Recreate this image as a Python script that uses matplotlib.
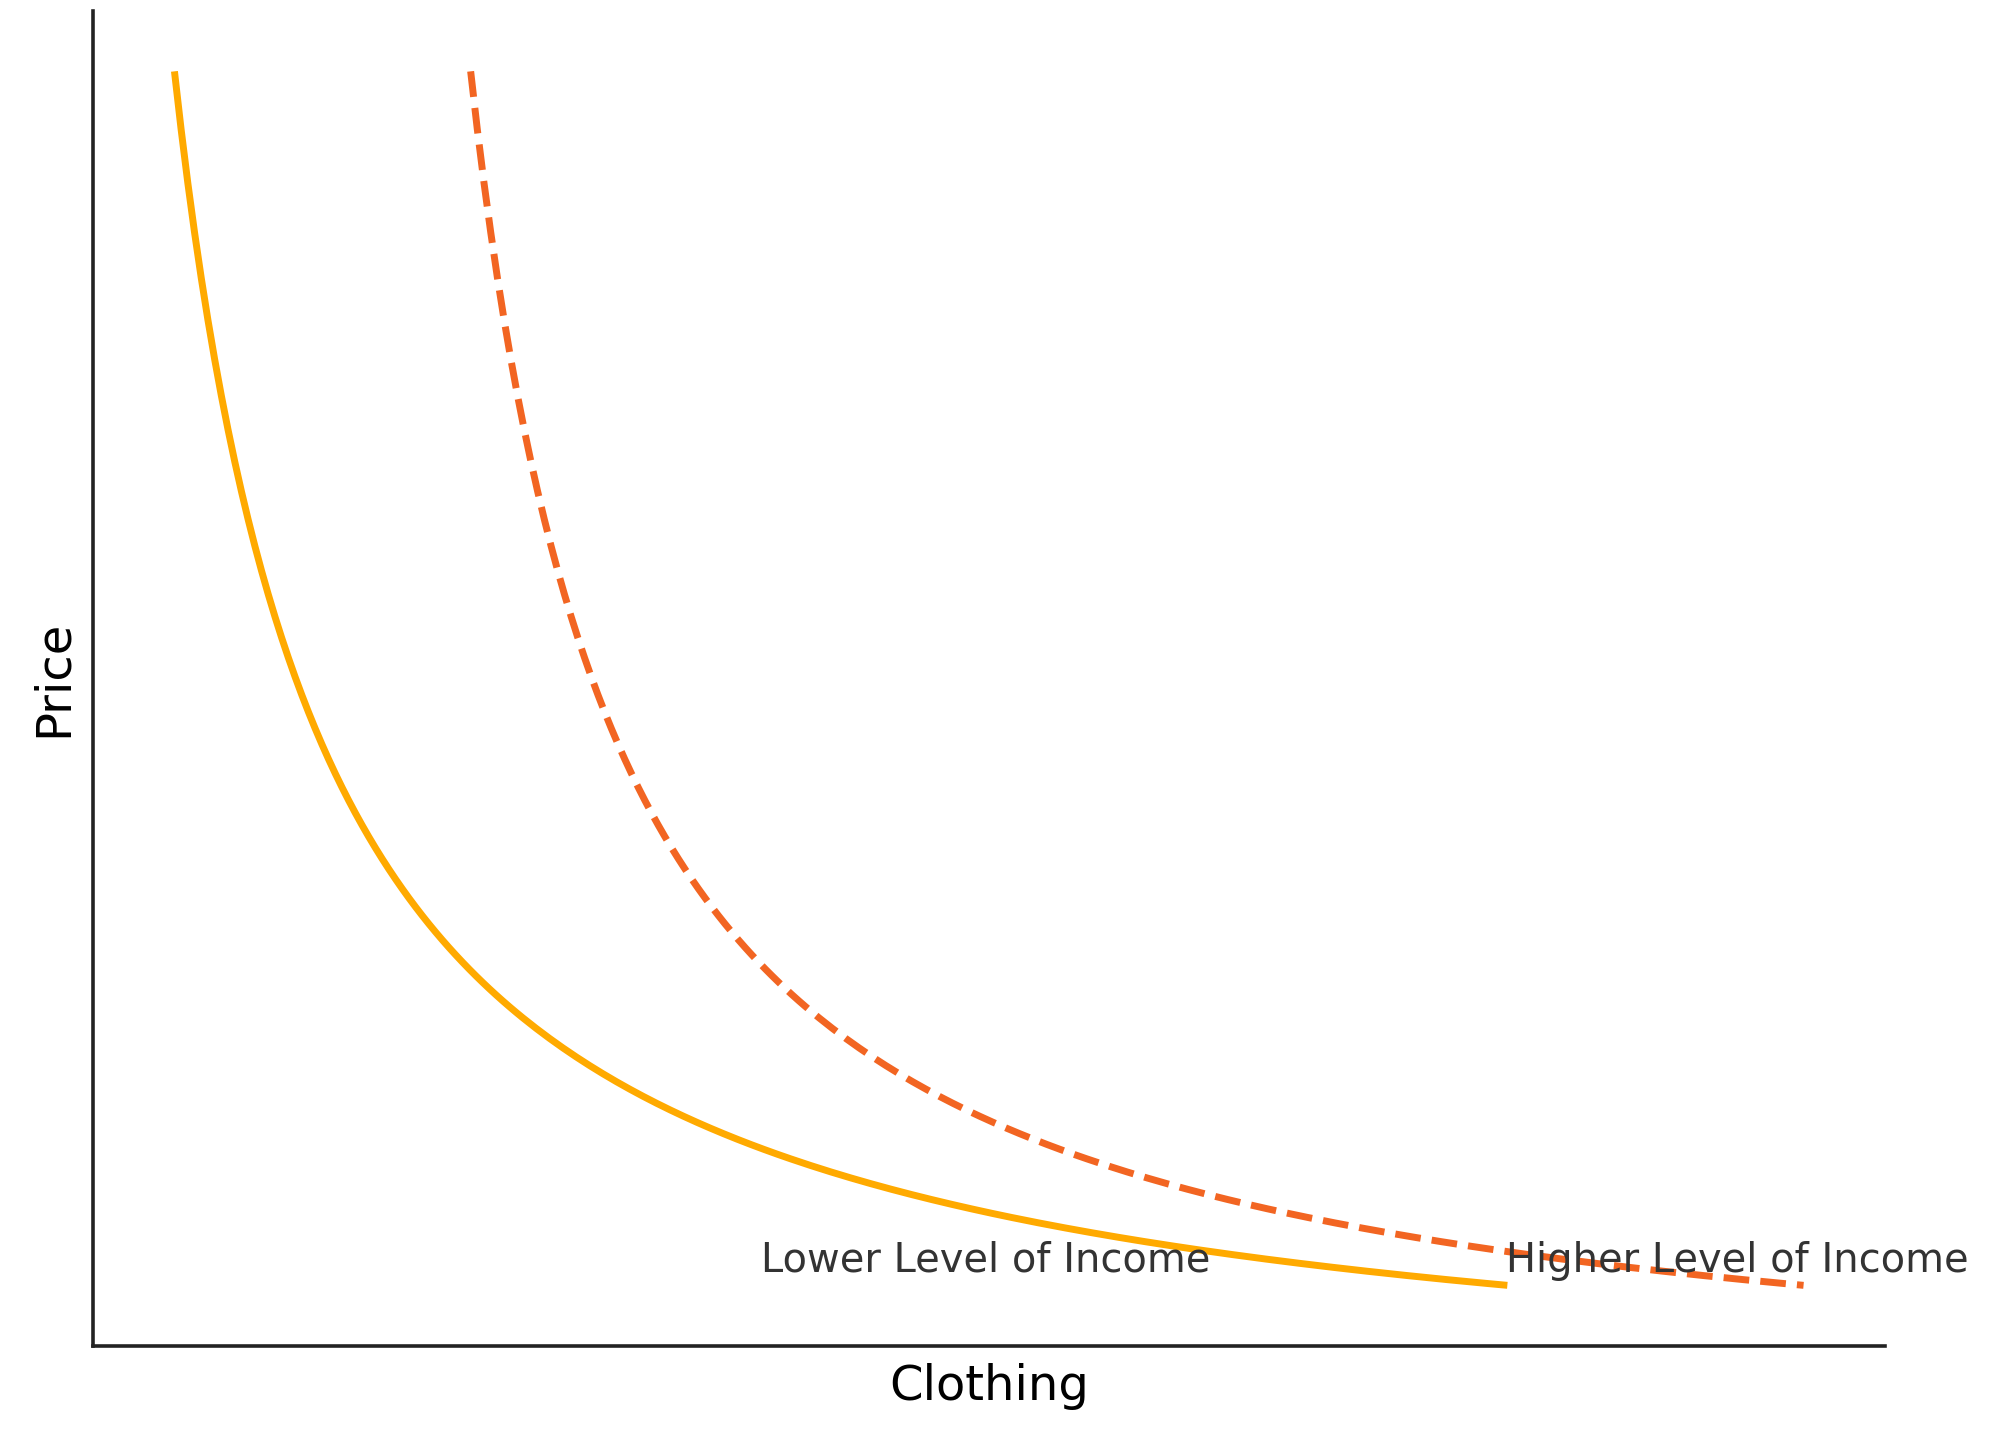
import numpy as np
import matplotlib.pyplot as plt
import seaborn as sns

sns.set_style("white")
plt.rcParams['font.family'] = ['DejaVu Sans']

quantity = np.linspace(1, 10, 200)
income_shift = 2
labels = ["Lower Level of Income", "Higher Level of Income"]
label_x = [4.96, 9.99]
label_y = 1.1

price = 10 / quantity

fig = plt.figure(figsize=(10, 7.195), dpi=200)
ax = fig.add_axes([0.0465, 0.0646, 0.896, 0.928])

ax.plot(quantity, price, color='#FFAA00', linewidth=2.5, solid_capstyle='butt')
ax.plot(quantity + income_shift, price, color='#F26522', linewidth=2.5, linestyle='--')

for x, txt in zip(label_x, labels):
    ax.text(x, label_y, txt, fontsize=14.4, color='#333333', ha='left', va='baseline')

ax.set_xlabel("Clothing", fontsize=17.3, color='black', labelpad=6)
ax.set_ylabel("Price", fontsize=17.3, color='black', labelpad=6)
ax.set_xticks([])
ax.set_yticks([])
sns.despine(ax=ax)
for s in ['left', 'bottom']:
    ax.spines[s].set_color('#222222')
    ax.spines[s].set_linewidth(1.3)

fig.savefig('out.png', dpi=200)
